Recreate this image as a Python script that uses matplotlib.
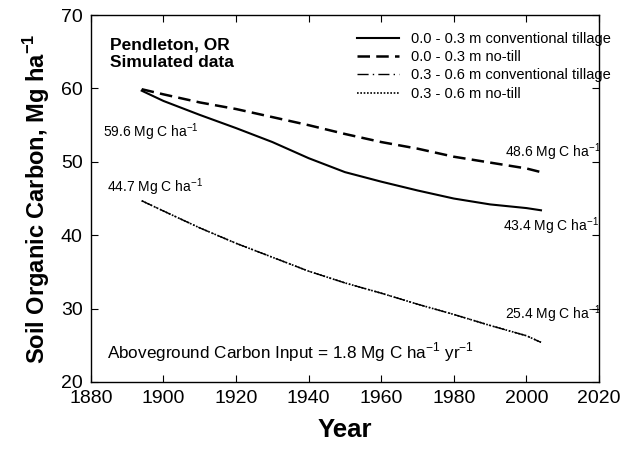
import matplotlib
matplotlib.use("Agg")
import matplotlib.pyplot as plt

plt.rcParams['font.family'] = ['Liberation Sans', 'DejaVu Sans']

# values (5-10 year steps)
years = [1894, 1900, 1910, 1920, 1930, 1940, 1950, 1960, 1970, 1980, 1990, 2000, 2004]
ct_top = [59.7, 58.3, 56.4, 54.6, 52.7, 50.5, 48.6, 47.3, 46.1, 45.0, 44.2, 43.7, 43.4]
nt_top = [59.9, 59.2, 58.1, 57.2, 56.1, 55.0, 53.8, 52.7, 51.8, 50.7, 49.9, 49.1, 48.6]
ct_sub = [44.7, 43.3, 41.0, 38.9, 37.0, 35.1, 33.5, 32.1, 30.6, 29.2, 27.7, 26.3, 25.4]
nt_sub = [44.7, 43.3, 41.0, 38.9, 37.0, 35.1, 33.5, 32.1, 30.6, 29.2, 27.7, 26.3, 25.4]

labels = ["0.0 - 0.3 m conventional tillage", "0.0 - 0.3 m no-till",
          "0.3 - 0.6 m conventional tillage", "0.3 - 0.6 m no-till"]

fig = plt.figure(figsize=(6.4, 4.58), dpi=100)
ax = fig.add_axes([0.142, 0.166, 0.794, 0.801])

ax.plot(years, ct_top, color='black', lw=1.5, ls='-', label=labels[0])
ax.plot(years, nt_top, color='black', lw=1.8, ls=(0, (5, 2.5)), label=labels[1])
ax.plot(years, ct_sub, color='black', lw=1.0, ls=(0, (8, 3, 1, 3)), label=labels[2])
ax.plot(years, nt_sub, color='black', lw=1.2, ls=(0, (1, 1)), label=labels[3])

ax.set_xlim(1880, 2020)
ax.set_ylim(20, 70)
ax.set_xticks(range(1880, 2021, 20))
ax.set_yticks(range(20, 71, 10))
ax.tick_params(direction='in', top=True, right=True, labelsize=14, length=5, pad=6)
for s in ax.spines.values():
    s.set_linewidth(1.0)

ax.set_xlabel("Year", fontsize=18.5, fontweight='bold', labelpad=8)
ax.set_ylabel(r"Soil Organic Carbon, Mg ha$^{\mathregular{-1}}$", fontsize=17,
              fontweight='bold', labelpad=6)

ax.legend(loc='upper left', bbox_to_anchor=(0.524, 0.955), frameon=False,
          fontsize=10.5, handlelength=2.9, handletextpad=0.8, labelspacing=0.3,
          borderpad=0, borderaxespad=0)

ax.text(1885.2, 65.9, "Pendleton, OR", fontsize=12.5, fontweight='bold', va='center')
ax.text(1885.2, 63.5, "Simulated data", fontsize=12.5, fontweight='bold', va='center')

sup = r"$^{\mathregular{-1}}$"
ax.text(1883.3, 54.0, "59.6 Mg C ha" + sup, fontsize=10, va='center')
ax.text(1884.4, 46.5, "44.7 Mg C ha" + sup, fontsize=10, va='center')
ax.text(1994.1, 51.3, "48.6 Mg C ha" + sup, fontsize=10, va='center')
ax.text(1993.5, 41.2, "43.4 Mg C ha" + sup, fontsize=10, va='center')
ax.text(1994.1, 29.2, "25.4 Mg C ha" + sup, fontsize=10, va='center')
ax.text(1884.4, 24.0, "Aboveground Carbon Input = 1.8 Mg C ha" + sup + " yr" + sup,
        fontsize=12.3, va='center')

fig.savefig("out.png", dpi=100)
